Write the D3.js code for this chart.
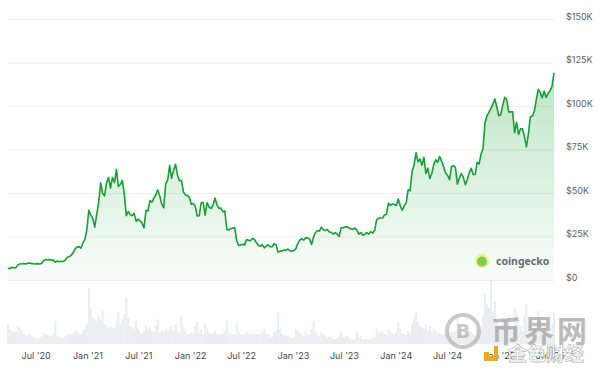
<html>
<head>
    <title>btc price 5y</title>
    <meta charset="utf-8">
</head>
<body style="margin: 0; background: #fff;">
    <svg style="position: absolute; left: 0; top: 0;"></svg>
</body>

<script src="https://cdn.jsdelivr.net/npm/d3@7"></script>
<script>
const width = 600;
const height = 372;

// weekly samples starting 2020-03-25, prices in $K
const startDate = "2020-03-25";
const stepDays = 7;

const price2020 = [6.7, 6.6, 7.3, 6.9, 7.1, 8.7, 9.2, 9.3, 9.5, 9.2, 9.6, 9.8, 9.4, 9.3,
    9.2, 9.4, 9.2, 9.5, 11.1, 11.7, 11.6, 11.8, 11.4, 11.4, 10.2, 10.9, 10.5, 10.8,
    10.6, 11.4, 12.9, 13.3, 14.1, 15.6, 17.8, 19.0, 19.2, 18.3, 21.3, 23.2, 28.9];
const price2021 = [40.0, 37.3, 35.5, 30.4, 37.6, 44.8, 55.9, 49.7, 48.4, 56.0, 58.9, 52.8, 58.9,
    56.0, 63.5, 53.8, 54.9, 57.2, 49.5, 37.0, 39.3, 37.6, 36.9, 38.3, 33.7, 35.0,
    33.9, 32.8, 29.9, 40.0, 39.7, 45.6, 44.7, 47.0, 49.0, 51.8, 48.2, 43.6, 41.5,
    55.3, 57.4, 65.9, 58.4, 62.9, 66.5, 60.4, 57.1, 57.2, 50.6, 48.9, 48.6, 47.5];
const price2022 = [43.5, 43.9, 42.4, 36.8, 36.9, 44.4, 44.6, 37.3, 44.4, 41.9, 41.1, 42.9, 47.1,
    43.2, 41.1, 41.4, 39.2, 39.7, 29.0, 28.7, 29.5, 29.8, 30.2, 22.6, 19.9, 20.1,
    20.5, 20.2, 23.2, 22.9, 22.6, 23.9, 23.3, 21.5, 20.0, 19.3, 20.2, 18.5, 19.4,
    20.3, 19.1, 19.1, 20.8, 20.2, 15.9, 16.6, 16.6, 17.2, 17.0, 17.8, 16.8, 16.5];
const price2023 = [16.9, 17.9, 20.9, 22.9, 23.7, 22.9, 24.3, 24.2, 23.6, 20.4, 24.7, 27.3, 28.3,
    28.2, 30.4, 28.8, 28.4, 29.0, 27.6, 27.4, 26.3, 27.2, 26.3, 25.1, 30.0, 30.1,
    30.5, 30.6, 29.9, 29.4, 29.2, 29.8, 28.7, 26.4, 27.3, 25.7, 26.2, 27.2, 26.3,
    27.8, 26.9, 28.4, 34.5, 35.4, 35.6, 35.6, 37.4, 37.8, 44.1, 42.9, 43.6, 43.5];
const price2024 = [42.8, 46.6, 42.7, 40.1, 42.6, 44.3, 51.8, 51.3, 62.4, 66.1, 73.1, 67.9, 69.5,
    66.0, 70.5, 61.2, 64.3, 58.3, 61.2, 66.3, 69.1, 67.6, 71.0, 68.2, 65.0, 61.5,
    60.2, 57.7, 65.0, 65.8, 64.6, 55.1, 58.7, 61.2, 59.0, 54.8, 57.6, 61.7, 64.2,
    60.6, 60.6, 67.6, 66.7, 72.3, 75.6, 90.4, 94.3, 96.4, 98.6, 101.1, 104.0, 99.4];
const price2025 = [94.4, 95.0, 100.5, 105.0, 103.7, 96.6, 96.6, 96.6, 84.7, 90.6, 83.7, 86.9, 86.9,
    82.5, 76.5, 84.0, 93.7, 94.2, 97.0, 103.5, 109.6, 107.8, 104.7, 108.6, 104.9, 107.3,
    108.8, 111.3, 119.0];

// weekly volume, $B
const vol2020 = [60, 45, 40, 35, 38, 55, 50, 42, 30, 28, 25, 30, 22, 20, 18, 16, 18, 22, 35,
    30, 28, 25, 22, 30, 70, 25, 22, 20, 18, 22, 28, 30, 28, 32, 38, 40, 30, 28, 40, 45, 60];
const vol2021 = [170, 110, 80, 75, 70, 85, 75, 100, 60, 55, 50, 55, 45, 50, 70, 95, 60,
    75, 90, 140, 80, 55, 50, 45, 70, 45, 35, 30, 40, 55, 45, 50, 40, 38, 55, 75, 35, 40, 35,
    45, 40, 50, 55, 40, 60, 45, 35, 85, 50, 40, 30, 30];
const vol2022 = [35, 30, 55, 70, 35, 45, 30, 60, 50, 35, 30, 35, 40, 30, 28, 30, 32,
    40, 70, 35, 30, 28, 30, 65, 40, 30, 28, 30, 35, 30, 28, 30, 32, 30, 28, 30, 35, 45, 30,
    28, 22, 20, 35, 40, 95, 45, 30, 25, 22, 25, 20, 15];
const vol2023 = [20, 45, 40, 35, 30, 25, 40, 28, 30, 45, 70, 40, 30, 25, 35, 30, 28,
    20, 22, 18, 16, 15, 18, 25, 35, 22, 20, 25, 18, 15, 14, 15, 35, 20, 25, 14, 15, 14, 13,
    15, 18, 20, 45, 35, 40, 38, 30, 30, 45, 38, 35, 30];
const vol2024 = [35, 65, 45, 35, 30, 28, 40, 35, 60, 80, 95, 70, 55, 50, 45, 60, 40,
    55, 35, 45, 40, 30, 35, 30, 28, 30, 40, 35, 40, 35, 40, 90, 45, 35, 30, 35, 30, 40, 35,
    30, 28, 45, 40, 45, 85, 150, 120, 110, 195, 100, 130, 70];
const vol2025 = [55, 60, 80, 75, 55, 90, 50, 40, 110, 95, 60, 55, 40, 85, 120, 45, 70, 40,
    45, 60, 100, 70, 55, 60, 50, 40, 35, 60, 95];

const priceTicks = [0, 25, 50, 75, 100, 125, 150];
const dateTicks = ["2020-07-01", "2021-01-01", "2021-07-01", "2022-01-01", "2022-07-01",
    "2023-01-01", "2023-07-01", "2024-01-01", "2024-07-01", "2025-01-01", "2025-07-01"];

const prices = [].concat(price2020, price2021, price2022, price2023, price2024, price2025);
const vols = [].concat(vol2020, vol2021, vol2022, vol2023, vol2024, vol2025);
const t0 = d3.isoParse(startDate);
const data = prices.map((p, i) => ({
    date: d3.timeDay.offset(t0, i * stepDays),
    price: p,
    vol: vols[i]
}));

const x = d3.scaleTime()
    .domain(d3.extent(data, d => d.date))
    .range([8, 554]);
const y = d3.scaleLinear().domain([0, 150]).range([280, 19]);
const yVol = d3.scaleLinear().domain([0, 200]).range([344, 278]);

const svg = d3.select("svg")
    .attr("width", width)
    .attr("height", height)
    .style("font-family", "Inter, 'Noto Sans', sans-serif");

const defs = svg.append("defs");
const grad = defs.append("linearGradient")
    .attr("id", "fillGrad")
    .attr("gradientUnits", "userSpaceOnUse")
    .attr("x1", 0).attr("x2", 0)
    .attr("y1", y(120)).attr("y2", y(0));
grad.append("stop").attr("offset", 0).attr("stop-color", "#2fb04a").attr("stop-opacity", 0.32);
grad.append("stop").attr("offset", 1).attr("stop-color", "#2fb04a").attr("stop-opacity", 0.03);

// grid
svg.append("g")
    .selectAll("line")
    .data(priceTicks)
    .join("line")
        .attr("x1", 8)
        .attr("x2", 554)
        .attr("y1", d => y(d) + 0.5)
        .attr("y2", d => y(d) + 0.5)
        .attr("stroke", "#eceef1")
        .attr("stroke-width", 1);

// volume
svg.append("g")
    .attr("fill", "#eaedf1")
    .selectAll("rect")
    .data(data)
    .join("rect")
        .attr("x", d => x(d.date) - 1)
        .attr("width", 2)
        .attr("y", d => yVol(d.vol))
        .attr("height", d => yVol(0) - yVol(d.vol));

// price area + line
svg.append("path")
    .datum(data)
    .attr("fill", "url(#fillGrad)")
    .attr("d", d3.area()
        .x(d => x(d.date))
        .y0(y(0))
        .y1(d => y(d.price)));

svg.append("path")
    .datum(data)
    .attr("fill", "none")
    .attr("stroke", "#14a035")
    .attr("stroke-width", 1.6)
    .attr("stroke-linejoin", "round")
    .attr("d", d3.line()
        .x(d => x(d.date))
        .y(d => y(d.price)));

// y axis
const yAxis = svg.append("g")
    .attr("transform", "translate(563,0)")
    .call(d3.axisRight(y)
        .tickValues(priceTicks)
        .tickSize(0)
        .tickPadding(3)
        .tickFormat(d => d === 0 ? "$0" : `$${d}K`));
yAxis.select(".domain").remove();
yAxis.selectAll("text")
    .attr("dy", "0.05em")
    .attr("fill", "#5b626d")
    .style("font-size", "9px")
    .style("font-family", "Inter, 'Noto Sans', sans-serif");

// x axis
const xAxis = svg.append("g")
    .attr("transform", "translate(0,350)")
    .call(d3.axisBottom(x)
        .tickValues(dateTicks.map(d => d3.isoParse(d)))
        .tickSize(0)
        .tickPadding(3)
        .tickFormat(d3.timeFormat("%b '%y")));
xAxis.select(".domain").remove();
xAxis.selectAll("text")
    .attr("fill", "#3f4652")
    .style("font-size", "9px")
    .style("font-family", "Inter, 'Noto Sans', sans-serif");

// coingecko mark
const cg = svg.append("g");
cg.append("circle").attr("cx", 482).attr("cy", 261).attr("r", 7).attr("fill", "#eef08a");
cg.append("circle").attr("cx", 482).attr("cy", 261.5).attr("r", 5).attr("fill", "#7ccf4a");
cg.append("text")
    .attr("x", 496).attr("y", 264.5)
    .attr("fill", "#646b77")
    .style("font-size", "10.5px")
    .style("font-weight", 700)
    .style("font-family", "'Noto Sans', sans-serif")
    .text("coingecko");

// watermarks
const wm = svg.append("g").attr("opacity", 0.6);
wm.append("circle")
    .attr("cx", 463).attr("cy", 331).attr("r", 16)
    .attr("fill", "none").attr("stroke", "#a6a6a6").attr("stroke-width", 4);
wm.append("text")
    .attr("x", 463).attr("y", 338)
    .attr("text-anchor", "middle")
    .attr("fill", "#a6a6a6")
    .style("font-size", "19px")
    .style("font-weight", 700)
    .style("font-family", "'DejaVu Sans', sans-serif")
    .text("B");
wm.append("text")
    .attr("x", 491).attr("y", 342)
    .attr("fill", "#8e8e8e")
    .style("font-size", "30px")
    .style("font-weight", 700)
    .style("letter-spacing", "3px")
    .style("font-family", "'Noto Sans CJK SC', sans-serif")
    .text("币界网");

svg.append("path")
    .attr("d", "M484,352 h5 v4 h5 v-10 h4 v15 h-14 z")
    .attr("fill", "#f2a81d");
svg.append("text")
    .attr("x", 508).attr("y", 361)
    .attr("fill", "#ffffff")
    .attr("stroke", "#b5b5b5")
    .attr("stroke-width", 0.7)
    .style("font-size", "19px")
    .style("font-weight", 700)
    .style("font-family", "'Noto Sans CJK SC', sans-serif")
    .text("金色财经");
</script>
</html>
